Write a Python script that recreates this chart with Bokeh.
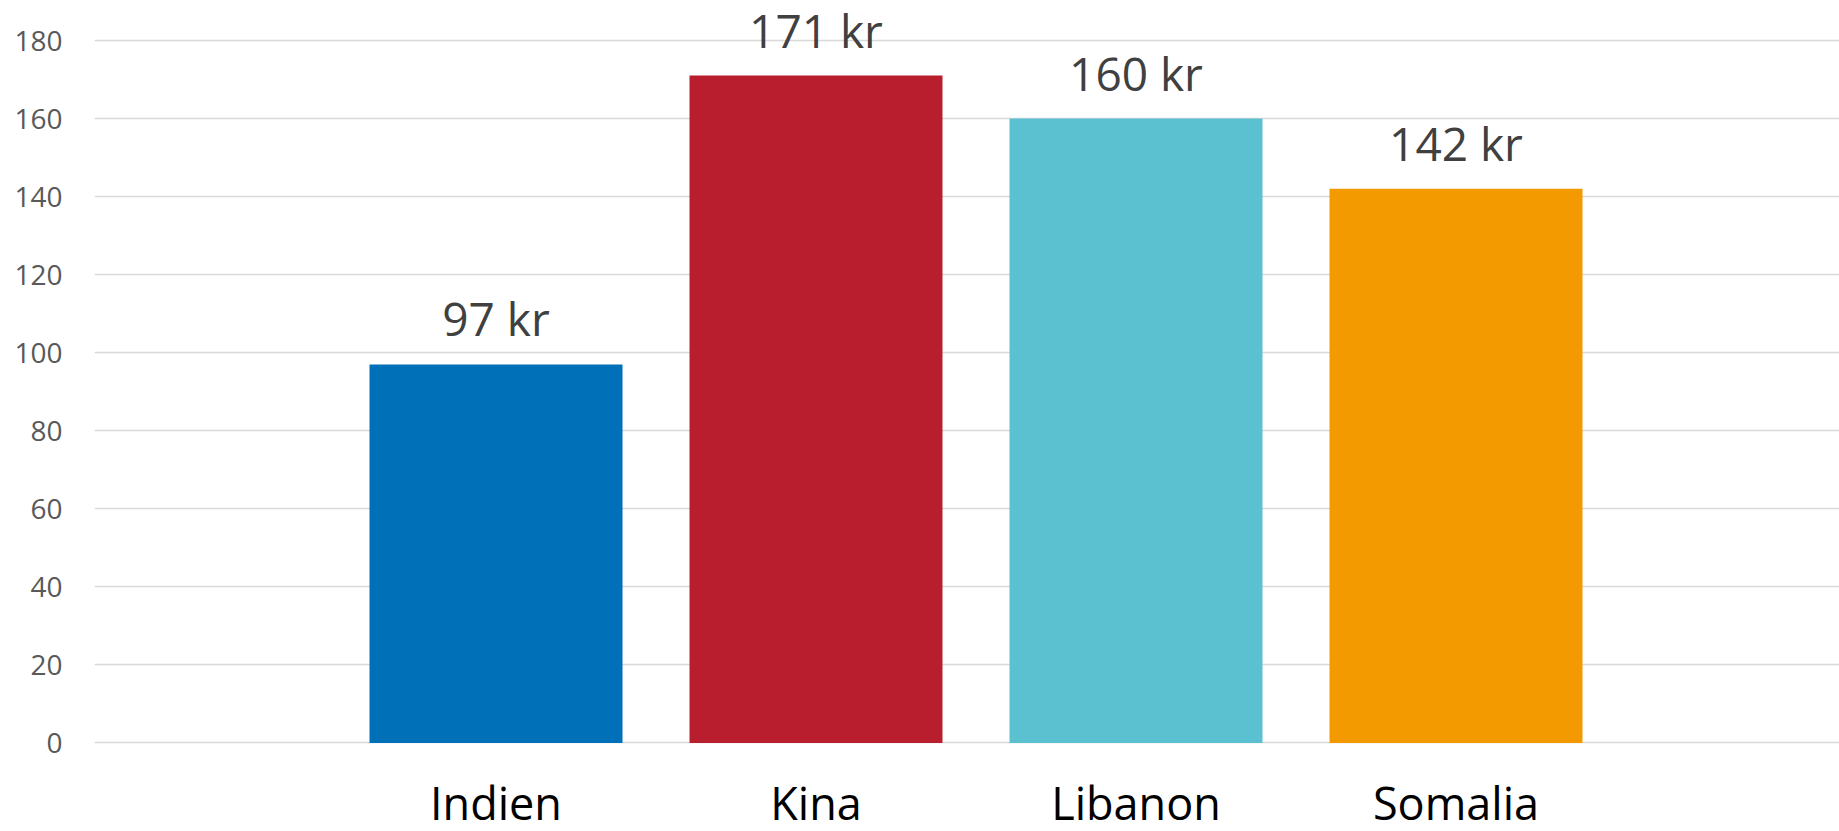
from bokeh.plotting import figure
from bokeh.models import ColumnDataSource, FixedTicker, Label
from bokeh.core.properties import value
from bokeh.embed import file_html
from bokeh.resources import INLINE

# ---- data ----
categories = ["Indien", "Kina", "Libanon", "Somalia"]
amounts = [97, 171, 160, 142]
amount_labels = ["97 kr", "171 kr", "160 kr", "142 kr"]
y_ticks = [0, 20, 40, 60, 80, 100, 120, 140, 160, 180]

# ---- styles ----
bar_colors = ["#0070b8", "#b81e2d", "#5bc0cf", "#f39a00"]
FONT = "Open Sans"

W, H = 1839, 831
LEFT = 94
TOP_TICK_PX = 40.0
ZERO_PX = 742.4
px_per_unit = (ZERO_PX - TOP_TICK_PX) / 180.0
cat_px = 320.0
first_center = 495.5

xs = list(range(len(categories)))
src = ColumnDataSource(dict(x=xs, cat=categories, amount=amounts,
                            lab=amount_labels, color=bar_colors,
                            zero=[0] * len(categories)))

x_start = -(first_center - LEFT) / cat_px
x_end = x_start + (W - LEFT) / cat_px
y_end = 180 + TOP_TICK_PX / px_per_unit
y_start = y_end - H / px_per_unit

p = figure(width=W, height=H, output_backend="svg", toolbar_location=None,
           x_range=(x_start, x_end), y_range=(y_start, y_end),
           min_border_left=LEFT, min_border_right=0, min_border_top=0,
           min_border_bottom=0, outline_line_color=None,
           background_fill_color="white", border_fill_color="white")

p.vbar(x="x", top="amount", bottom=0, width=253 / cat_px, color="color",
       line_color=None, source=src)

# value labels above bars
p.text(x="x", y="amount", text="lab", source=src, text_align="center",
       text_baseline="alphabetic", y_offset=-46,
       text_font=value(FONT), text_font_size="46px", text_color="#404040")

# category labels below the axis
p.text(x="x", y="zero", text="cat", source=src, text_align="center",
       text_baseline="alphabetic", y_offset=60,
       text_font=value(FONT), text_font_size="45px", text_color="#000000")

p.xaxis.visible = False
p.xgrid.visible = False

yax = p.yaxis[0]
yax.ticker = FixedTicker(ticks=y_ticks)
yax.axis_line_color = None
yax.major_tick_line_color = None
yax.minor_tick_line_color = None
yax.major_tick_out = 0
yax.major_tick_in = 0
yax.major_label_standoff = 32
yax.major_label_text_font = FONT
yax.major_label_text_font_size = "28px"
yax.major_label_text_color = "#595959"

p.ygrid.ticker = FixedTicker(ticks=y_ticks)
p.ygrid.grid_line_color = "#d9d9d9"
p.ygrid.grid_line_width = 1.5

# source note, cut off at the bottom edge as in the original
p.add_layout(Label(x=1807, y=-4, x_units="screen", y_units="screen",
                   text="Kä", text_font=FONT, text_font_size="16px",
                   text_baseline="top", text_color="#000000",
                   y_offset=10))

open("out.html", "w").write(file_html(p, INLINE))
